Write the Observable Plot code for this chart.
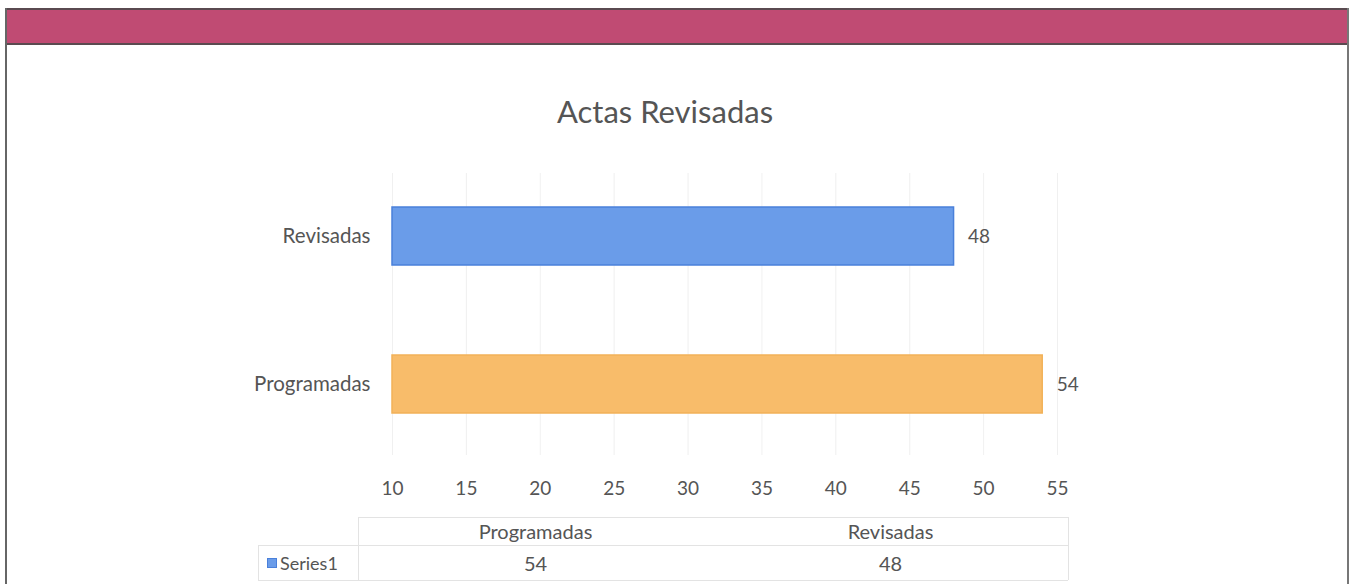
<!DOCTYPE html>
<html>
<head>
<meta charset="utf-8">
<script src="https://cdn.jsdelivr.net/npm/d3@7"></script>
<script src="https://cdn.jsdelivr.net/npm/@observablehq/plot@0.6"></script>
<style>
  html, body { margin: 0; padding: 0; background: #fff; }
  #wrap { position: relative; width: 1353px; height: 584px; overflow: hidden; font-family: Lato, "Open Sans", sans-serif; }
  #band { position: absolute; left: 6px; top: 8px; width: 1341px; height: 33px; background: #c04b73; border-top: 2px solid #5a4a50; border-bottom: 2px solid #5a4a50; }
  #lb { position: absolute; left: 5px; top: 8px; width: 2px; height: 580px; background: #666; }
  #rb { position: absolute; left: 1347px; top: 8px; width: 2px; height: 580px; background: #777; }
  #title { position: absolute; left: 0; width: 1330px; top: 92px; text-align: center; font-size: 31px; color: #555; }
  #chart { position: absolute; left: 0; top: 0; }
  .tbl { position: absolute; color: #555; font-size: 20px; line-height: 24px; }
  .hl { position: absolute; height: 1px; background: #e3e3e3; }
  .vl { position: absolute; width: 1px; background: #e3e3e3; }
</style>
</head>
<body>
<div id="wrap">
  <div id="chart"></div>
  <div id="band"></div>
  <div id="lb"></div>
  <div id="rb"></div>
  <div id="title"></div>
  <div id="table"></div>
</div>
<script>
const titleText = "Actas Revisadas";
const categories = ["Revisadas", "Programadas"];
const values = [48, 54];
const colors = ["#6a9ce9", "#f8bc6a"];
const strokes = ["#4a80da", "#f2b158"];
const xTicks = [10, 15, 20, 25, 30, 35, 40, 45, 50, 55];
const seriesName = "Series1";
const tableOrder = ["Programadas", "Revisadas"];

const data = categories.map((c, i) => ({cat: c, value: values[i], fill: colors[i], stroke: strokes[i]}));

document.getElementById("title").textContent = titleText;

const chart = Plot.plot({
  width: 1353,
  height: 584,
  marginLeft: 392,
  marginRight: 296,
  marginTop: 173,
  marginBottom: 129,
  style: {fontFamily: "Lato, 'Open Sans', sans-serif", background: "transparent", color: "#555"},
  x: {domain: [10, 55], ticks: xTicks, label: null},
  y: {domain: categories, range: [173, 447], paddingInner: 0.61, paddingOuter: 0.23, label: null},
  marks: [
    Plot.gridX(xTicks, {stroke: "#e4e4e4", strokeOpacity: 0.55}),
    Plot.barX(data, {x1: 10, x2: "value", y: "cat", fill: "fill", stroke: "stroke", strokeWidth: 1.5}),
    Plot.text(data, {x: "value", y: "cat", text: d => String(d.value), dx: 14, textAnchor: "start", fontSize: 19, fill: "#555"}),
    Plot.axisX({ticks: xTicks, tickSize: 0, tickPadding: 26, fontSize: 19, fill: "#555", tickFormat: d => String(d)}),
    Plot.axisY({tickSize: 0, tickPadding: 22, fontSize: 20.5, fill: "#555"})
  ]
});
document.getElementById("chart").appendChild(chart);

// data table under the chart
const t = document.getElementById("table");
function add(cls, style, text) {
  const d = document.createElement("div");
  d.className = cls;
  Object.assign(d.style, style);
  if (text != null) d.textContent = text;
  t.appendChild(d);
  return d;
}
const tblLeft = 358, tblRight = 1068, keyLeft = 258;
const colW = (tblRight - tblLeft) / tableOrder.length;
add("hl", {left: tblLeft + "px", top: "517px", width: (tblRight - tblLeft) + "px"});
add("hl", {left: keyLeft + "px", top: "545px", width: (tblRight - keyLeft) + "px"});
add("hl", {left: keyLeft + "px", top: "580px", width: (tblRight - keyLeft) + "px"});
add("vl", {left: tblLeft + "px", top: "517px", height: "63px"});
add("vl", {left: keyLeft + "px", top: "545px", height: "35px"});
add("vl", {left: tblRight + "px", top: "517px", height: "63px"});
tableOrder.forEach((c, i) => {
  const cx = tblLeft + colW * (i + 0.5);
  add("tbl", {left: (cx - 100) + "px", width: "200px", textAlign: "center", top: "519px"}, c);
  const v = values[categories.indexOf(c)];
  add("tbl", {left: (cx - 100) + "px", width: "200px", textAlign: "center", top: "551px"}, String(v));
});
const key = add("tbl", {left: "267px", top: "551px", fontSize: "18px"});
key.innerHTML = '<span style="display:inline-block;width:8px;height:8px;background:' + colors[0] + ';border:1px solid ' + strokes[0] + ';margin-right:3px;vertical-align:2px"></span>' + seriesName;
</script>
</body>
</html>
